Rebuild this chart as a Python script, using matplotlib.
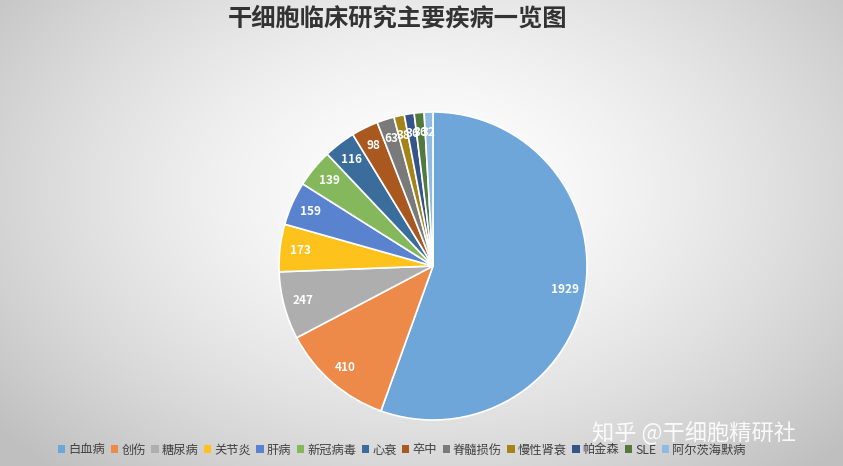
import numpy as np
import matplotlib
matplotlib.use("Agg")
from matplotlib import pyplot as plt
from matplotlib.patches import Patch

plt.rcParams['font.family'] = ['Noto Sans CJK SC', 'DejaVu Sans']

# data
diseases = ["白血病", "创伤", "糖尿病", "关节炎", "肝病", "新冠病毒", "心衰", "卒中",
            "脊髓损伤", "慢性肾衰", "帕金森", "SLE", "阿尔茨海默病"]
counts = [1929, 410, 247, 173, 159, 139, 116, 98, 63, 38, 36, 36, 32]
colors = ["#6fa6da", "#ed8a4a", "#aeaeae", "#fdc31c", "#5a83cf", "#85b85d", "#3a6c9c",
          "#a9591f", "#7a7a7a", "#a48416", "#34548a", "#537a3c", "#8fbbe3"]

W, H = 843, 466
fig = plt.figure(figsize=(W / 100, H / 100), dpi=100)

# radial grey background
bg = fig.add_axes([0, 0, 1, 1])
yy, xx = np.mgrid[0:H, 0:W]
d = np.sqrt(((xx - 430) / 560.0) ** 2 + ((yy - 190) / 380.0) ** 2)
g = 1.0 - 0.25 * np.clip(d, 0, 1) ** 1.5
bg.imshow(np.dstack([g, g, g]), aspect="auto", extent=[0, W, H, 0])
bg.axis("off")

# pie
cx, cy, r = 433, 266, 154
ax = fig.add_axes([(cx - r) / W, (H - cy - r) / H, 2 * r / W, 2 * r / H])
wedges, texts = ax.pie(counts, colors=colors, startangle=90, counterclock=False,
                       labels=[str(c) for c in counts], labeldistance=0.87,
                       wedgeprops=dict(edgecolor="white", linewidth=1.2),
                       textprops=dict(color="white", fontsize=8.5, fontweight="bold"))
for t in texts:
    t.set_horizontalalignment("center")
ax.set_xlim(-1, 1)
ax.set_ylim(-1, 1)
ax.axis("off")

fig.text(398 / W, 1 - 19 / H, "干细胞临床研究主要疾病一览图", ha="center", va="center",
         fontsize=17.5, fontweight="bold", color="#333333")

handles = [Patch(facecolor=c, edgecolor="none") for c in colors]
fig.legend(handles, diseases, loc="center", bbox_to_anchor=(402 / W, 1 - 450 / H),
           ncol=len(diseases), frameon=False, fontsize=8.8, handlelength=0.6,
           handleheight=0.6, handletextpad=0.25, columnspacing=0.45, labelcolor="#404040")

# watermark
fig.text(592 / W, 1 - 432 / H, "知乎 @干细胞精研社", ha="left", va="center",
         fontsize=16, color="white", alpha=0.9)

fig.savefig("out.png", dpi=100)
